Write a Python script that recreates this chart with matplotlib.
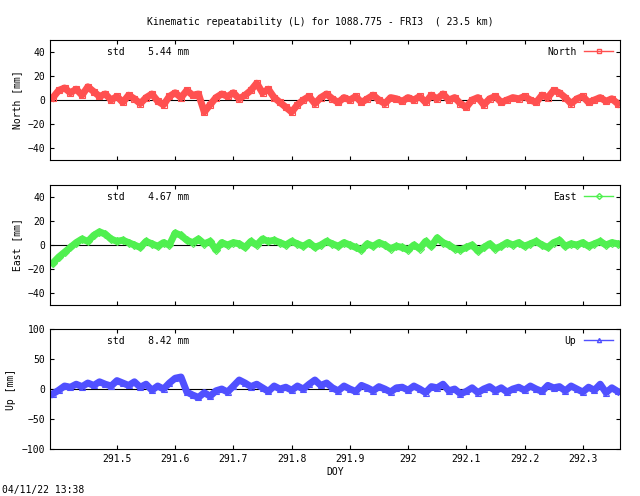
import numpy as np
import matplotlib
matplotlib.use("Agg")
import matplotlib.pyplot as plt
from matplotlib.lines import Line2D

plt.rcParams.update({"font.family": "DejaVu Sans Mono", "font.size": 7})

# epochs (DOY), 0.01 day spacing
doy = np.round(np.arange(291.39, 292.365, 0.01), 2)

north = [2, 8, 10, 6, 9, 4, 11, 7, 3, 5,
         0, 3, -2, 4, 1, -3, 2, 5, -1, -4,
         3, 6, 2, 8, 4, 5, -10, -4, 2, 5,
         3, 6, 1, 4, 8, 14, 6, 9, 2, -2,
         -6, -10, -4, 0, 3, -3, 2, 5, 1, -2,
         2, 0, 3, -2, 1, 4, 0, -3, 2, 1,
         -1, 2, 0, 3, -2, 4, 1, 5, 0, 2,
         -3, -6, 0, 2, -4, 1, 3, -2, 0, 2,
         1, 3, 0, -2, 4, 2, 8, 6, 2, -3,
         1, 3, -2, 0, 2, -1, 1, -3]
east = [-15, -10, -6, -2, 2, 5, 3, 8, 11, 9,
        5, 3, 4, 2, 0, -2, 3, 1, -1, 2,
        0, 10, 8, 4, 2, 5, 1, 3, -4, 2,
        0, 2, 1, -2, 3, 0, 5, 3, 4, 2,
        0, 3, 1, -1, 2, -2, 0, 3, 1, -1,
        2, 0, -2, -4, 1, -1, 2, 0, -3, -1,
        -2, -4, 0, -3, 3, -1, 6, 2, 0, -3,
        -4, -2, 0, -5, -2, 1, -3, -1, 2, 0,
        2, -1, 1, 3, 0, -2, 2, 4, -1, 1,
        0, 2, -1, 1, 3, 0, 2, 1]
up = [-8, -2, 5, 3, 8, 4, 10, 6, 12, 8,
      5, 14, 10, 6, 12, 3, 8, -2, 5, 0,
      10, 18, 20, -5, -10, -14, -6, -12, -3, 0,
      -5, 5, 15, 10, 4, 8, 2, -4, 5, 0,
      3, -2, 5, 0, 8, 15, 6, 10, 2, -3,
      5, 0, -4, 6, 2, -3, 4, 0, -5, 2,
      3, -2, 5, 0, -6, 4, 2, 8, -3, 0,
      -8, -4, 2, -6, 0, 4, -3, 2, -5, 0,
      3, -2, 5, 0, -4, 6, 2, 4, -3, 5,
      0, -5, 3, -2, 8, -6, 2, -4]

panels = [
    ("North", north, "#ff5050", "s", 50, [-40, -20, 0, 20, 40], "5.44"),
    ("East", east, "#50f050", "D", 50, [-40, -20, 0, 20, 40], "4.67"),
    ("Up", up, "#5050ff", "^", 100, [-100, -50, 0, 50, 100], "8.42"),
]

fig = plt.figure(figsize=(6.4, 4.96), dpi=100)
W, H = 640, 496
tops = [40, 185, 329]
for (name, vals, col, mk, lim, yt, std), top in zip(panels, tops):
    ax = fig.add_axes([50 / W, 1 - (top + 120) / H, 570 / W, 120 / H])
    ax.axhline(0, color="black", lw=0.8)
    ax.plot(doy, vals, color=col, lw=5, marker=mk, ms=4, mfc="none", mew=0.8)
    ax.set_xlim(291.385, 292.364)
    ax.set_ylim(-lim, lim)
    ax.set_yticks(yt)
    ax.set_xticks([291.5, 291.6, 291.7, 291.8, 291.9, 292, 292.1, 292.2, 292.3])
    ax.set_xticklabels(["291.5", "291.6", "291.7", "291.8", "291.9", "292",
                        "292.1", "292.2", "292.3"] if name == "Up" else [])
    ax.tick_params(direction="in", top=True, right=True, length=3)
    ax.set_ylabel(f"{name} [mm]")
    ax.text(0.1, 0.9, f"std    {std} mm", transform=ax.transAxes, va="center")
    handle = Line2D([], [], color=col, lw=1, marker=mk, ms=3, mfc="none")
    ax.legend([handle], [name], loc="upper right", frameon=False,
              handlelength=3, markerfirst=False, borderaxespad=0.3)
fig.axes[-1].set_xlabel("DOY", labelpad=2)

fig.text(0.5, 1 - 22 / H, "Kinematic repeatability (L) for 1088.775 - FRI3  ( 23.5 km)",
         ha="center", va="center")
fig.text(2 / W, 1 - 490 / H, "04/11/22 13:38", va="center")
fig.savefig("out.png", dpi=100)
